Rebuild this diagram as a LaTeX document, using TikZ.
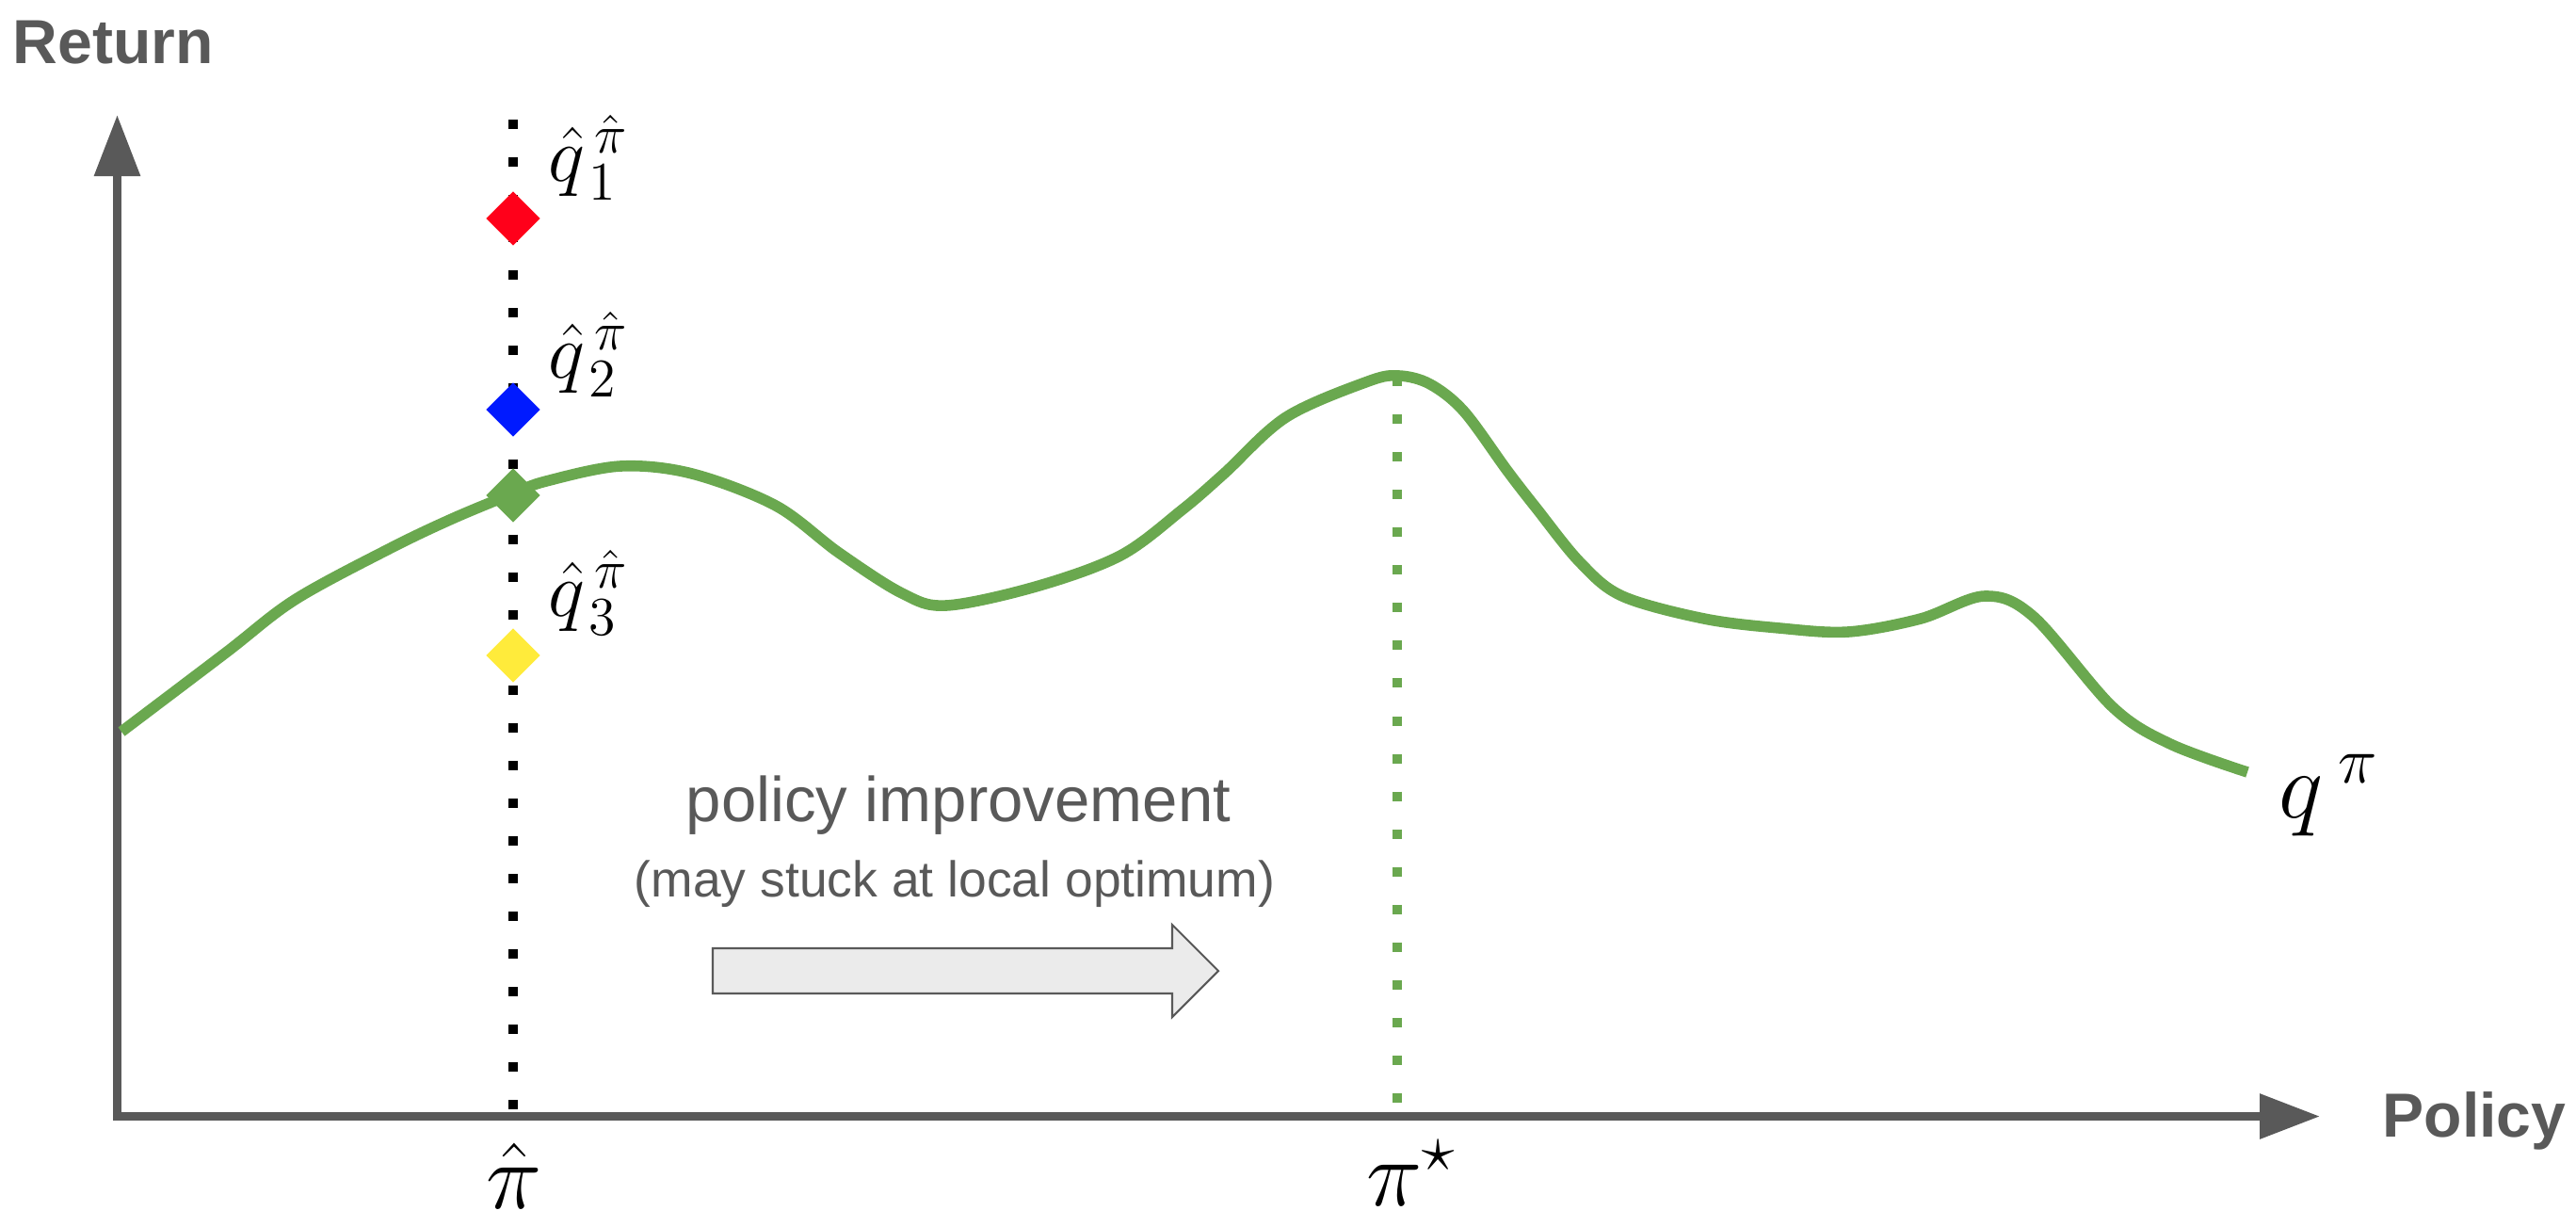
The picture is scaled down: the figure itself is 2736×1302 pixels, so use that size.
\RequirePackage{fix-cm}
\documentclass[tikz,border=0pt]{standalone}
\usepackage{fontspec}
\newfontfamily\arialfont{Liberation Sans}
\usetikzlibrary{arrows.meta,shapes.geometric}
\definecolor{axgray}{RGB}{89,89,89}
\definecolor{curvegreen}{RGB}{106,168,79}
\definecolor{dred}{RGB}{255,0,26}
\definecolor{dblue}{RGB}{0,26,255}
\definecolor{dyellow}{RGB}{255,235,59}
\definecolor{arrowfill}{RGB}{235,235,235}
\tikzset{
  axislabel/.style={font=\arialfont\bfseries\fontsize{18.8}{20}\selectfont, text=axgray, inner sep=0pt},
  bigtext/.style={font=\arialfont\fontsize{19.1}{21}\selectfont, text=axgray, inner sep=0pt},
  smalltext/.style={font=\arialfont\fontsize{15.2}{17}\selectfont, text=axgray, inner sep=0pt},
  qlabel/.style={font=\fontsize{23.5}{25}\selectfont, inner sep=0pt},
  biglabel/.style={font=\fontsize{28.45}{30}\selectfont, inner sep=0pt},
  axisline/.style={draw=axgray, line width=2.6pt, line join=miter},
  curveline/.style={draw=curvegreen, line width=3.3pt},
  dotline/.style={line width=2.85pt, dash pattern=on 2.85pt off 8.54pt},
  marker/.style={diamond, minimum width=16.5pt, minimum height=16.5pt, inner sep=0pt, draw=none},
  blockarrow/.style={fill=arrowfill, draw=axgray, line width=0.6pt, line join=miter}
}
\begin{document}
\begin{tikzpicture}[x=0.01cm, y=-0.01cm]
\useasboundingbox (0,0) rectangle (2736,1302);

% axes
\coordinate (ytip) at (124.5,122);
\coordinate (origin) at (124.5,1185.5);
\coordinate (xtip) at (2464,1185.5);
\draw[axisline, {Triangle[length=18.5pt,width=13.4pt]}-{Triangle[length=18.2pt,width=13.1pt]}] (ytip) -- (origin) -- (xtip);

\node[axislabel, anchor=base west] (ret) at (13,67) {Return};
\node[axislabel, anchor=base west] (pol) at (2530,1207) {Policy};

% dotted verticals
\coordinate (pihattop) at (545,127);
\coordinate (pihatbot) at (545,1180);
\draw[dotline, black] (pihattop) -- (pihatbot);
\coordinate (startop) at (1484,400);
\coordinate (starbot) at (1484,1180);
\draw[dotline, curvegreen] (startop) -- (starbot);

% curve
\draw[curveline] plot[smooth, tension=0.55] coordinates {
 (129,777) (240,693) (313,637) (413,583) (480,551) (545,524) (580,511)
 (659,495) (735,503) (824,537) (891,587) (958,630) (1005,643)
 (1100,623) (1190,590) (1256,541) (1300,503) (1366,443) (1453,405)
 (1486,399) (1519,408) (1555,437) (1601,500) (1632,540) (1678,597)
 (1723,633) (1810,657) (1890,667) (1963,671) (2040,657) (2108,633) (2160,655)
 (2244,751) (2305,790) (2387,820)};

% markers
\node[marker, fill=dred] (m1) at (545,232) {};
\node[marker, fill=dblue] (m2) at (545,435) {};
\node[marker, fill=curvegreen] (m0) at (545,526) {};
\node[marker, fill=dyellow] (m3) at (545,696) {};

% q labels
\node[qlabel, anchor=base west] (l1) at (582,192) {$\hat{q}_{\mkern2mu1}^{\mkern3mu\hat{\pi}}$};
\node[qlabel, anchor=base west] (l2) at (582,401) {$\hat{q}_{\mkern2mu2}^{\mkern3mu\hat{\pi}}$};
\node[qlabel, anchor=base west] (l3) at (582,654) {$\hat{q}_{\mkern2mu3}^{\mkern3mu\hat{\pi}}$};
\node[biglabel, anchor=base west] (qpi) at (2420,868) {$q^{\mkern4mu\pi}$};

% x labels
\node[biglabel, anchor=base] (pihat) at (546,1283) {$\hat{\pi}$};
\node[biglabel, anchor=base west] (pistar) at (1451,1280) {$\pi^{\star}$};

% improvement text and block arrow
\node[bigtext, anchor=base] (imp) at (1018,872) {policy improvement};
\node[smalltext, anchor=base] (imp2) at (1014,952) {(may stuck at local optimum)};
\draw[blockarrow] (757,1007) -- (1245,1007) -- (1245,982) -- (1294,1031)
  -- (1245,1080) -- (1245,1055) -- (757,1055) -- cycle;
\end{tikzpicture}
\end{document}
